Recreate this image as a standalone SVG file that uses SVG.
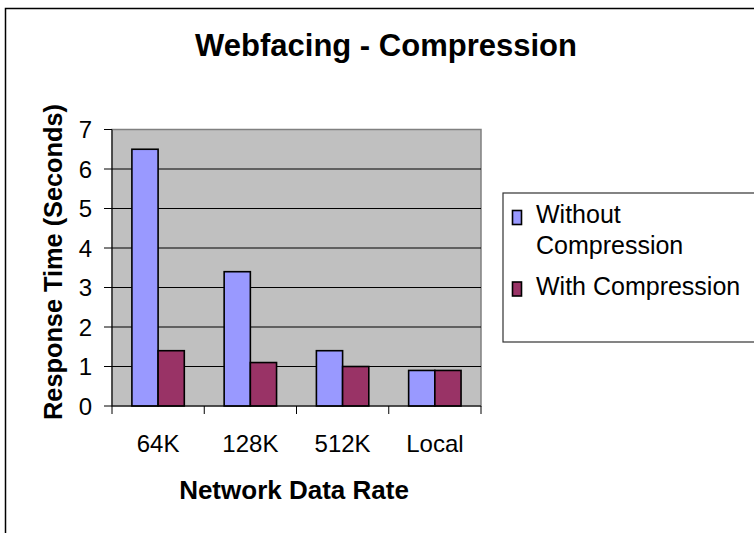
<svg xmlns="http://www.w3.org/2000/svg" width="754" height="533" viewBox="0 0 754 533">
  <style>
    text { font-family: "Liberation Sans", Arial, sans-serif; fill: #000; }
    .title { font-size: 31px; font-weight: bold; }
    .axt { font-size: 26px; font-weight: bold; }
    .tick { font-size: 24px; }
    .leg { font-size: 25px; }
    .grid { stroke: #000; stroke-width: 1; }
    .axis { stroke: #000; stroke-width: 1; fill: none; }
    .b1 { fill: #9999FF; stroke: #000; stroke-width: 1.6; }
    .b2 { fill: #993366; stroke: #000; stroke-width: 1.6; }
  </style>
  <rect width="754" height="533" fill="#fff"/>
  <rect id="frame" x="5.5" y="8.5" width="800" height="600" fill="#fff" stroke="#000" stroke-width="1.5"/>
  <text id="title" class="title" x="386" y="56" text-anchor="middle">Webfacing - Compression</text>

  <g id="plot">
    <rect x="112" y="129.5" width="369" height="276.5" fill="#C0C0C0" stroke="#808080" stroke-width="1.5"/>
    <g id="gridlines">
      <line class="grid" x1="112" y1="169" x2="481" y2="169"/>
      <line class="grid" x1="112" y1="208.5" x2="481" y2="208.5"/>
      <line class="grid" x1="112" y1="248" x2="481" y2="248"/>
      <line class="grid" x1="112" y1="287.5" x2="481" y2="287.5"/>
      <line class="grid" x1="112" y1="327" x2="481" y2="327"/>
      <line class="grid" x1="112" y1="366.5" x2="481" y2="366.5"/>
    </g>
  </g>

  <g id="bars">
    <rect class="b1" x="131.9" y="149.25" width="26.2" height="256.75"/>
    <rect class="b2" x="158.1" y="350.7" width="26.2" height="55.3"/>
    <rect class="b1" x="224.15" y="271.7" width="26.2" height="134.3"/>
    <rect class="b2" x="250.35" y="362.55" width="26.2" height="43.45"/>
    <rect class="b1" x="316.4" y="350.7" width="26.2" height="55.3"/>
    <rect class="b2" x="342.6" y="366.5" width="26.2" height="39.5"/>
    <rect class="b1" x="408.65" y="370.45" width="26.2" height="35.55"/>
    <rect class="b2" x="434.85" y="370.45" width="26.2" height="35.55"/>
  </g>

  <g id="axes">
    <path class="axis" d="M112,129.5 V406 H481"/>
    <path class="axis" d="M104,129.5 H112 M104,169 H112 M104,208.5 H112 M104,248 H112 M104,287.5 H112 M104,327 H112 M104,366.5 H112 M104,406 H112"/>
    <path class="axis" d="M112,406 V414 M204.25,406 V414 M296.5,406 V414 M388.75,406 V414 M481,406 V414"/>
  </g>

  <g id="y-labels" class="tick" text-anchor="end">
    <text x="92" y="138">7</text>
    <text x="92" y="177.5">6</text>
    <text x="92" y="217">5</text>
    <text x="92" y="256.5">4</text>
    <text x="92" y="296">3</text>
    <text x="92" y="335.5">2</text>
    <text x="92" y="375">1</text>
    <text x="92" y="414.5">0</text>
  </g>

  <g id="x-labels" class="tick" text-anchor="middle">
    <text x="158.1" y="451.5">64K</text>
    <text x="250.4" y="451.5">128K</text>
    <text x="342.6" y="451.5">512K</text>
    <text x="434.9" y="451.5">Local</text>
  </g>

  <text id="x-title" class="axt" x="294" y="498.5" text-anchor="middle">Network Data Rate</text>
  <text id="y-title" class="axt" style="font-size:25.3px" transform="translate(62,262) rotate(-90)" text-anchor="middle">Response Time (Seconds)</text>

  <g id="legend">
    <rect x="503" y="193" width="252" height="149" fill="#fff" stroke="#333" stroke-width="1.2"/>
    <rect class="b1" x="512.5" y="210.5" width="9" height="14"/>
    <text class="leg" x="536" y="223">Without</text>
    <text class="leg" x="536" y="253.5">Compression</text>
    <rect class="b2" x="512.5" y="282" width="9" height="14"/>
    <text class="leg" x="536" y="295">With Compression</text>
  </g>
</svg>
